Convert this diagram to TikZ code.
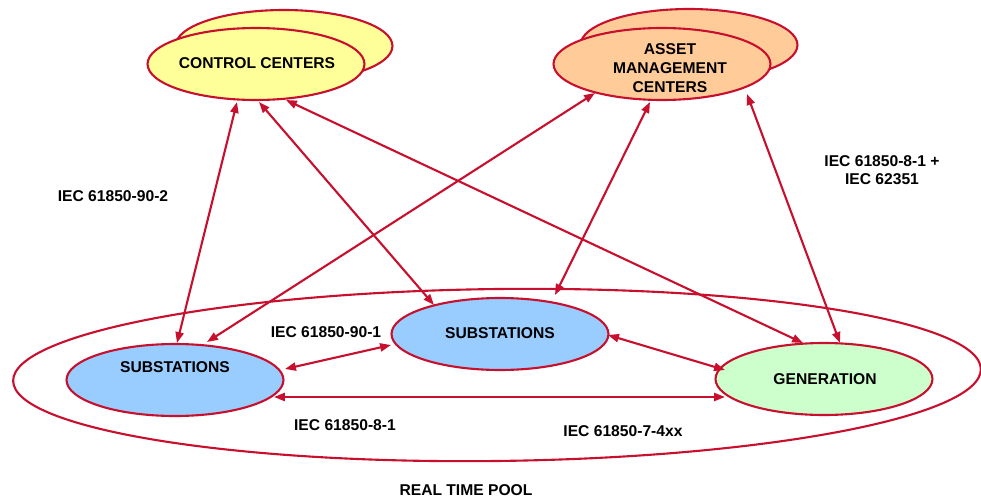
\documentclass[tikz,border=0pt]{standalone}
\usepackage{fontspec}
\setmainfont{Liberation Sans}
\usetikzlibrary{shapes.geometric,arrows.meta}

\definecolor{linkred}{HTML}{C8102E}
\definecolor{ccyellow}{HTML}{FFFF99}
\definecolor{amorange}{HTML}{FFCC99}
\definecolor{ssblue}{HTML}{99CCFF}
\definecolor{gengreen}{HTML}{CCFFCC}

\begin{document}
\begin{tikzpicture}[x=0.02cm,y=-0.02cm,
  every node/.style={font=\fontsize{8.9}{10.6}\selectfont\bfseries},
  bubble/.style={ellipse, draw=linkred, line width=1.2pt, inner sep=0pt,
    minimum width=4.34cm, minimum height=1.44cm},
  tag/.style={inner sep=0pt, align=center},
  link/.style={linkred, line width=1.2pt,
    {Triangle[length=6.2pt,width=4.6pt]}-{Triangle[length=6.2pt,width=4.6pt]}}]

\useasboundingbox (0,0) rectangle (981,497);

% the real time pool
\node[ellipse, draw=linkred, line width=1.2pt, inner sep=0pt, rotate=0.7,
  minimum width=19.36cm, minimum height=3.44cm] (pool) at (497,375) {};
\node[tag] (pooltext) at (466,490) {REAL TIME POOL};

% centres, each drawn as a stack of two ellipses
\node[bubble, fill=ccyellow] (ccback) at (284,46) {};
\node[bubble, fill=ccyellow] (cc) at (256,64) {};
\node[tag] (cctext) at (257,63) {CONTROL CENTERS};

\node[bubble, fill=amorange] (amback) at (689,45) {};
\node[bubble, fill=amorange] (am) at (662,64) {};
\node[tag] (amtext) at (670,68) {ASSET\\MANAGEMENT\\CENTERS};

% members of the pool
\node[bubble, fill=ssblue] (ssl) at (175,380) {};
\node[tag] (ssltext) at (175,367) {SUBSTATIONS};
\node[bubble, fill=ssblue] (ssc) at (500,334) {};
\node[tag] (ssctext) at (500,333) {SUBSTATIONS};
\node[bubble, fill=gengreen] (gen) at (824,379) {};
\node[tag] (gentext) at (825,379) {GENERATION};

% links
\draw[link] ([shift={(-19,38)}]cc.center) -- ([shift={(2,-37)}]ssl.center);
\draw[link] ([shift={(3,38)}]cc.center) -- ([shift={(-66,-29)}]ssc.center);
\draw[link] ([shift={(30,36)}]cc.center) -- ([shift={(-21,-36)}]gen.center);
\draw[link] ([shift={(-67,29)}]am.center) -- ([shift={(32,-38)}]ssl.center);
\draw[link] ([shift={(-12,38)}]am.center) -- ([shift={(55,-39)}]ssc.center);
\draw[link] ([shift={(85,30)}]am.center) -- ([shift={(16,-36)}]gen.center);
\draw[link] ([shift={(110,-11)}]ssl.center) -- ([shift={(-109,11)}]ssc.center);
\draw[link] ([shift={(108,1)}]ssc.center) -- ([shift={(-99,-9)}]gen.center);
\draw[link] ([shift={(99,17)}]ssl.center) -- ([shift={(-99,18)}]gen.center);

% standard labels
\node[tag] (l902) at (113,196) {IEC 61850-90-2};
\node[tag] (l901) at (326,332) {IEC 61850-90-1};
\node[tag] (l81) at (345,425) {IEC 61850-8-1};
\node[tag] (l74) at (623,431) {IEC 61850-7-4xx};
\node[tag, font=\fontsize{8.9}{10.3}\selectfont\bfseries] (l62351) at (882,170) {IEC 61850-8-1 +\\IEC 62351};
\end{tikzpicture}
\end{document}
